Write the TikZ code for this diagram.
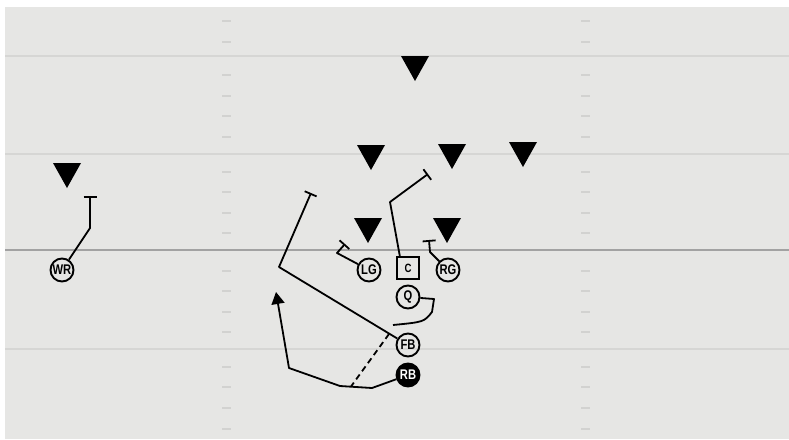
\documentclass[tikz,border=0pt]{standalone}
\usepackage{fontspec}
\newfontfamily\pf{Liberation Sans}[FakeStretch=0.8]
\usetikzlibrary{arrows.meta}
\definecolor{fieldc}{HTML}{E6E6E4}
\definecolor{yardc}{HTML}{D6D6D4}
\definecolor{losc}{HTML}{A2A2A2}
\definecolor{hashc}{HTML}{D2D2D0}
\begin{document}
\begin{tikzpicture}[x=1pt,y=-1pt,
  player/.style={circle,draw=black,line width=1.9pt,minimum size=23pt,inner sep=0pt,
    font=\pf\bfseries\fontsize{14}{14}\selectfont},
  center/.style={rectangle,draw=black,line width=1.9pt,minimum size=22pt,inner sep=0pt,
    font=\pf\bfseries\fontsize{12}{12}\selectfont},
  route/.style={line width=1.8pt,line join=round},
  block/.style={route,-{Bar[width=13pt,line width=1.8pt]}},
  run/.style={route,-{Triangle[width=13pt,length=12pt]}},
  yard/.style={line width=1.5pt,yardc},
  hash/.style={line width=1.5pt,hashc}
]
\useasboundingbox (0,0) rectangle (789,439);
\fill[white] (0,0) rectangle (789,439);
\fill[fieldc] (5,7) rectangle (789,439);
% yard lines
\foreach \yy in {56,154,349} \draw[yard] (5,\yy) -- (789,\yy);
\draw[line width=2pt,losc] (5,250) -- (789,250);
% hash marks
\foreach \yy in {21,42,75,96,116,137,172,192,213,233,271,291,312,332,367,387,408,429}{
  \draw[hash] (222,\yy) -- (231,\yy);
  \draw[hash] (581,\yy) -- (590,\yy);
}
% defenders
\foreach \xx/\yy in {415/56,371/145,452/144,523/142,67/163,368/218,447/218}
  \fill[black] (\xx-14,\yy) -- (\xx+14,\yy) -- (\xx,\yy+25) -- cycle;
% offense
\node[player] (WR) at (62,270) {WR};
\node[player] (LG) at (369,270) {LG};
\node[center] (C) at (408,268) {C};
\node[player] (RG) at (448,270) {RG};
\node[player] (Q) at (408,297) {Q};
\node[player] (FB) at (408,345) {FB};
\node[player,fill=black,text=white] (RB) at (408,375) {RB};
% route points
\coordinate (wr1) at (90,228);
\coordinate (wr2) at (90,196);
\coordinate (lg1) at (337,253);
\coordinate (lg2) at (345,244);
\coordinate (rg1) at (430,252);
\coordinate (rg2) at (429,240);
\coordinate (c0) at (400,257);
\coordinate (c1) at (390,202);
\coordinate (c2) at (428,174);
\coordinate (fb1) at (279,267);
\coordinate (fb2) at (311,193);
\coordinate (q1) at (434,299);
\coordinate (q2) at (432,312);
\coordinate (q3) at (393,325);
\coordinate (rb1) at (372,388);
\coordinate (rb2) at (340,386);
\coordinate (rb3) at (289,368);
\coordinate (rb4) at (276,292);
\coordinate (ds) at (389,334);
\coordinate (de) at (351,386.5);
% routes
\draw[block] (WR) -- (wr1) -- (wr2);
\draw[block] (LG) -- (lg1) -- (lg2);
\draw[block] (RG) -- (rg1) -- (rg2);
\draw[block] (c0) -- (c1) -- (c2);
\draw[block] (FB) -- (fb1) -- (fb2);
\draw[route] (Q) -- (q1) -- (q2) .. controls (424,322) .. (q3);
\draw[run] (RB) -- (rb1) -- (rb2) -- (rb3) -- (rb4);
\draw[route,dashed,dash pattern=on 6pt off 4pt] (ds) -- (de);
\end{tikzpicture}
\end{document}
